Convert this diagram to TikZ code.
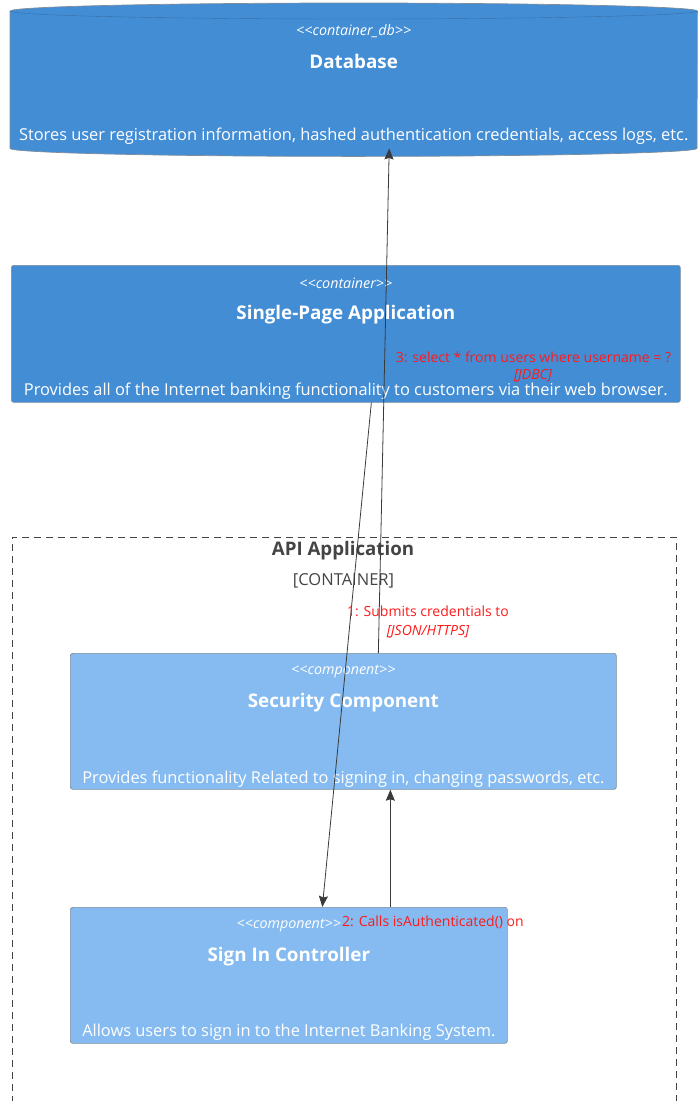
\documentclass[tikz,border=0pt]{standalone}
\usepackage{fontspec}
\setmainfont{Open Sans}
\usetikzlibrary{calc,arrows.meta}

\definecolor{contblue}{HTML}{438DD5}
\definecolor{compblue}{HTML}{85BBF0}
\definecolor{boxline}{HTML}{7E8C9A}
\definecolor{relgray}{HTML}{3A3A3A}
\definecolor{labred}{HTML}{FF1A1A}
\definecolor{bndgray}{HTML}{444444}

\newcommand{\stlt}{{<}{<}}
\newcommand{\stgt}{{>}{>}}

\tikzset{
	container/.style={draw=boxline, fill=contblue, rounded corners=2.5pt, line width=0.7pt, anchor=north west, inner sep=0pt},
	component/.style={draw=boxline, fill=compblue, rounded corners=2.5pt, line width=0.7pt, anchor=north west, inner sep=0pt},
	stereo/.style={text=white, font=\fontsize{14.3}{16}\selectfont\itshape, inner sep=0pt},
	boxtitle/.style={text=white, font=\fontsize{18.8}{22}\selectfont\bfseries, inner sep=0pt},
	boxdesc/.style={text=white, font=\fontsize{16.4}{19}\selectfont, inner sep=0pt},
	rel/.style={draw=relgray, line width=0.8pt, -{Stealth[length=11pt, width=9pt, inset=1.5pt]}},
	rellabel/.style={text=labred, font=\fontsize{14}{16}\selectfont, inner sep=0pt},
	reltech/.style={text=labred, font=\fontsize{14}{16}\selectfont\itshape, inner sep=0pt}
}

\begin{document}
\begin{tikzpicture}[x=1pt, y=-1pt]
	%%%%% START %%%%%
	\useasboundingbox (0,0) rectangle (699,1101);

	% database
	\node[anchor=north west, minimum width=687pt, minimum height=137pt, inner sep=0pt] (db) at (10,11) {};
	\draw[draw=boxline, fill=contblue, line width=0.7pt] (db.north west) -- (db.south west)
		arc[start angle=180, end angle=0, x radius=343.5, y radius=8] -- (db.north east)
		arc[start angle=0, end angle=-180, x radius=343.5, y radius=8] -- cycle;
	\draw[draw=contblue!80!black, line width=0.4pt] (db.north west) arc[start angle=180, end angle=0, x radius=343.5, y radius=8];
	\node[stereo] (db-st) at ([yshift=-20pt]db.north) {\stlt container\_db\stgt};
	\node[boxtitle] (db-ti) at ([yshift=-50pt]db.north) {Database};
	\node[boxdesc] (db-de) at ([yshift=-125pt]db.north) {Stores user registration information, hashed authentication credentials, access logs, etc.};

	% single-page application
	\node[container, minimum width=669pt, minimum height=137pt] (spa) at (11,265) {};
	\node[stereo] (spa-st) at ([yshift=-18pt]spa.north) {\stlt container\stgt};
	\node[boxtitle] (spa-ti) at ([yshift=-50pt]spa.north) {Single-Page Application};
	\node[boxdesc] (spa-de) at ([yshift=-126.5pt]spa.north) {Provides all of the Internet banking functionality to customers via their web browser.};

	% api application boundary
	\draw[draw=bndgray, line width=0.7pt, dash pattern=on 7pt off 5pt] (12,1115) -- (12,537) -- (676,537) -- (676,1115);
	\node[text=bndgray, font=\fontsize{18.7}{22}\selectfont\bfseries, inner sep=0pt] (api-ti) at (343,551) {API Application};
	\node[text=bndgray, font=\fontsize{16.5}{19}\selectfont, inner sep=0pt] (api-ty) at (343.5,581) {[CONTAINER]};

	% security component
	\node[component, minimum width=546pt, minimum height=136pt] (sec) at (70,653) {};
	\node[stereo] (sec-st) at ([yshift=-18pt]sec.north) {\stlt component\stgt};
	\node[boxtitle] (sec-ti) at ([yshift=-50pt]sec.north) {Security Component};
	\node[boxdesc] (sec-de) at ([yshift=-126pt]sec.north) {Provides functionality Related to signing in, changing passwords, etc.};

	% sign in controller
	\node[component, minimum width=437pt, minimum height=136pt] (sic) at (70,907) {};
	\node[stereo] (sic-st) at ([yshift=-18pt]sic.north) {\stlt component\stgt};
	\node[boxtitle] (sic-ti) at ([yshift=-50pt]sic.north) {Sign In Controller};
	\node[boxdesc] (sic-de) at ([yshift=-125.5pt]sic.north) {Allows users to sign in to the Internet Banking System.};

	% relations
	\draw[rel] ([xshift=25.5pt]spa.south) -- ([xshift=33.5pt]sic.north);
	\node[rellabel] (r1) at (428,611) {1: Submits credentials to};
	\node[reltech] (r1-t) at (428,632) {[JSON/HTTPS]};

	\draw[rel] ([xshift=101.5pt]sic.north) -- ([xshift=47pt]sec.south);
	\node[rellabel] (r2) at (433,922) {2: Calls isAuthenticated() on};

	\draw[rel] ([xshift=35pt]sec.north) -- ([xshift=35.5pt]db.south);
	\node[rellabel] (r3) at (533.5,357) {3: select * from users where username = ?};
	\node[reltech] (r3-t) at (533,376) {[JDBC]};
	%%%%% END %%%%%
\end{tikzpicture}
\end{document}
